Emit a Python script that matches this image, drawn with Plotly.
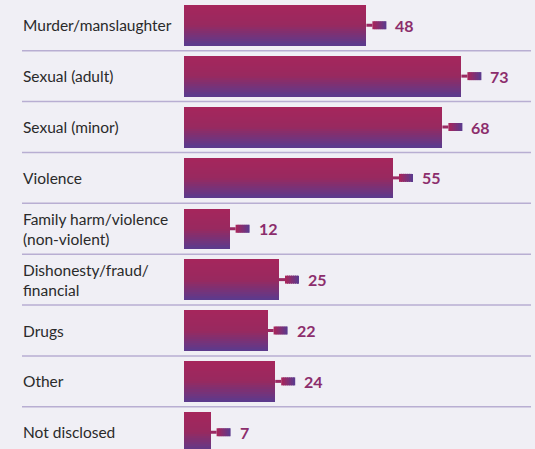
import plotly.graph_objects as go

categories = ["Murder/manslaughter", "Sexual (adult)", "Sexual (minor)", "Violence",
              "Family harm/violence<br>(non-violent)", "Dishonesty/fraud/<br>financial",
              "Drugs", "Other", "Not disclosed"]
values = [48, 73, 68, 55, 12, 25, 22, 24, 7]

W, H = 535, 449
ML = 184
PW = W - ML
PX_PER_ROW = 50.875
ROW0 = 25.25
XMAX = PW / 3.8

def lerp(c1, c2, t):
    a = [int(c1[i:i+2], 16) for i in (1, 3, 5)]
    b = [int(c2[i:i+2], 16) for i in (1, 3, 5)]
    return "#%02x%02x%02x" % tuple(round(a[k] + (b[k] - a[k]) * t) for k in range(3))

def grad(t):
    stops = [(0.0, "#a6265c"), (0.5, "#98295f"), (1.0, "#5a3b8e")]
    for (t0, c0), (t1, c1) in zip(stops, stops[1:]):
        if t <= t1:
            return lerp(c0, c1, (t - t0) / (t1 - t0))
    return stops[-1][1]

ypos = list(range(len(categories)))
bw = 40.5 / PX_PER_ROW
N = 20
fig = go.Figure()
for k in range(N):
    fig.add_trace(go.Bar(
        x=values, y=ypos, orientation="h",
        width=bw / N * 1.15, offset=-bw / 2 + k * bw / N,
        marker=dict(color=grad((k + 0.5) / N), line=dict(width=0)),
        hoverinfo="skip", showlegend=False))

shapes = []
annotations = []
for i, (c, v) in enumerate(zip(categories, values)):
    shapes.append(dict(type="line", xref="x", yref="y", xsizemode="pixel", xanchor=v,
                       x0=0, x1=6, y0=i, y1=i, line=dict(color="#9b2a63", width=3)))
    S = 7
    for j in range(S):
        shapes.append(dict(type="rect", xref="x", yref="y", xsizemode="pixel", xanchor=v,
                           ysizemode="pixel", yanchor=i,
                           x0=6 + 2 * j, x1=min(6 + 2 * j + 3, 20), y0=-4, y1=4,
                           fillcolor=lerp("#a6265c", "#5e3a8c", j / (S - 1)),
                           line=dict(width=0)))
    annotations.append(dict(x=v, y=i, xref="x", yref="y", text="<b>%d</b>" % v,
                            showarrow=False, xanchor="left", xshift=27,
                            font=dict(family="Lato", size=16, color="#8c2d6c")))
    annotations.append(dict(x=(21 - ML) / PW, y=i, xref="paper", yref="y", text=c,
                            showarrow=False, xanchor="left", align="left",
                            font=dict(family="Lato", size=15.5, color="#2a2a2a")))
for i in range(len(categories) - 1):
    shapes.append(dict(type="line", xref="paper", yref="y",
                       x0=(22 - ML) / PW, x1=(531 - ML) / PW, y0=i + 0.5, y1=i + 0.5,
                       line=dict(color="#b8aed2", width=1.5), layer="below"))

fig.update_layout(
    width=W, height=H, margin=dict(l=ML, r=0, t=0, b=0),
    paper_bgcolor="#f0eff5", plot_bgcolor="#f0eff5",
    barmode="overlay", bargap=0,
    xaxis=dict(range=[0, XMAX], visible=False, fixedrange=True),
    yaxis=dict(range=[(H - ROW0) / PX_PER_ROW, -ROW0 / PX_PER_ROW], visible=False),
    shapes=shapes, annotations=annotations,
)
fig.write_html("out.html", config={"displayModeBar": False},
               post_script="document.body.style.margin='0';document.body.style.background='#f0eff5';")
